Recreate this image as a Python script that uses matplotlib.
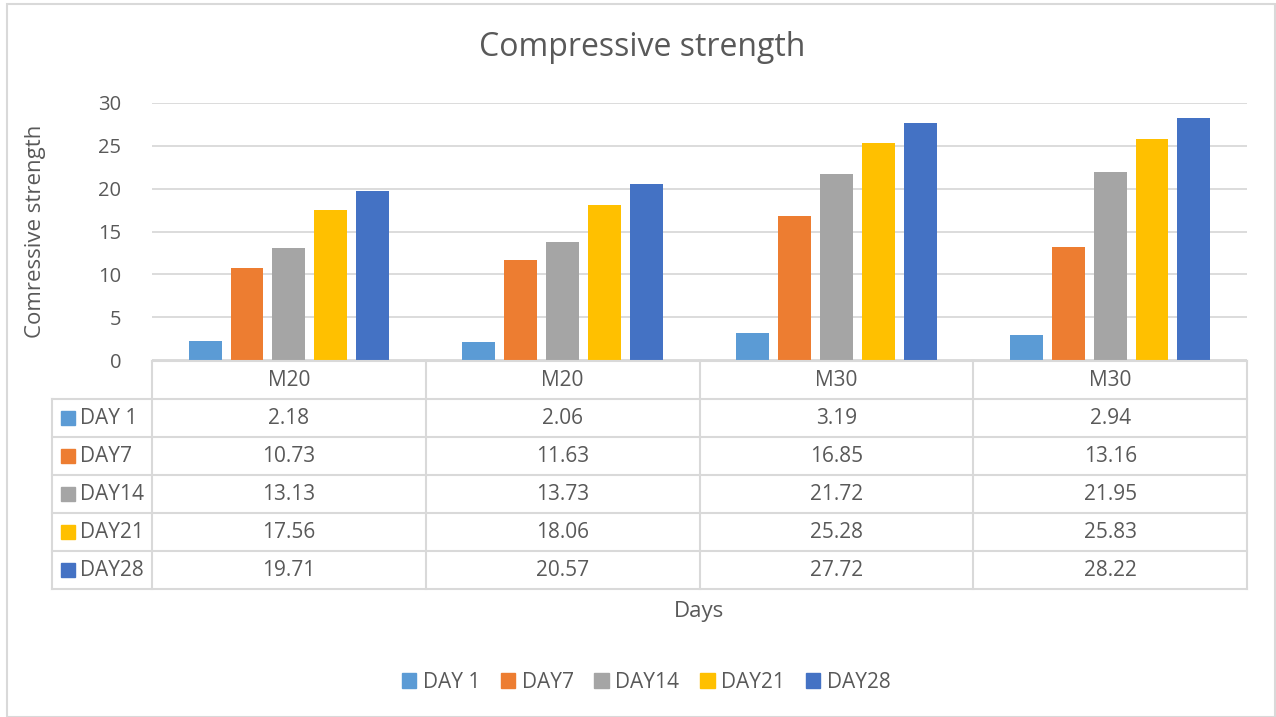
import matplotlib
matplotlib.use("Agg")
import matplotlib.pyplot as plt
from matplotlib.patches import Rectangle, Patch
import numpy as np

categories = ["M20", "M20", "M30", "M30"]
series_names = ["DAY 1", "DAY7", "DAY14", "DAY21", "DAY28"]
day1 = [2.18, 2.06, 3.19, 2.94]
day7 = [10.73, 11.63, 16.85, 13.16]
day14 = [13.13, 13.73, 21.72, 21.95]
day21 = [17.56, 18.06, 25.28, 25.83]
day28 = [19.71, 20.57, 27.72, 28.22]
series_values = [day1, day7, day14, day21, day28]
colors = ["#5B9BD5", "#ED7D31", "#A5A5A5", "#FFC000", "#4472C4"]
yticks = [0, 5, 10, 15, 20, 25, 30]

TXT = "#595959"
GRID = "#D9D9D9"
plt.rcParams['font.family'] = ['Open Sans', 'DejaVu Sans']

W, H = 1276, 717
fig = plt.figure(figsize=(W / 100, H / 100), dpi=100)

def fx(px):
    return px / W

def fy(py):
    return 1 - py / H

# main axes
L, R, T, B = 152, 1247, 103, 360
ax = fig.add_axes([fx(L), fy(B), fx(R - L), fy(T) - fy(B)])
n = len(series_names)
x = np.arange(len(categories))
width = 0.12
step = 0.153
for i, (name, vals, c) in enumerate(zip(series_names, series_values, colors)):
    ax.bar(x + (i - (n - 1) / 2) * step, vals, width=width, color=c, label=name, zorder=3)
ax.set_xlim(-0.5, len(categories) - 0.5)
ax.set_ylim(0, 30)
ax.set_yticks(yticks)
ax.set_yticklabels([str(v) for v in yticks], fontsize=14.5, color=TXT)
ax.tick_params(axis='y', length=0, pad=22)
ax.set_xticks([])
ax.grid(axis='y', color=GRID, linewidth=1.3, zorder=0)
for s in ax.spines.values():
    s.set_visible(False)
ax.set_ylabel("Comressive strength", fontsize=16, color=TXT, labelpad=38)

# title
fig.text(fx(642), fy(48), "Compressive strength", fontsize=23, color=TXT, ha='center', va='center')

# table axes
TL, TT, TB = 52, 361, 589
unit = (R - L) / len(categories)
xl = -0.5 - (L - TL) / unit
tax = fig.add_axes([fx(TL), fy(TB), fx(R - TL), fy(TT) - fy(TB)])
tax.set_xlim(xl, len(categories) - 0.5)
nrows = len(series_names) + 1
tax.set_ylim(nrows, 0)
tax.axis('off')
lw = 1.5
# horizontal lines
tax.plot([-0.5, len(categories) - 0.5], [0, 0], color=GRID, lw=lw, clip_on=False)
for r in range(1, nrows + 1):
    tax.plot([xl, len(categories) - 0.5], [r, r], color=GRID, lw=lw, clip_on=False)
# vertical lines
tax.plot([xl, xl], [1, nrows], color=GRID, lw=lw, clip_on=False)
for k in range(len(categories) + 1):
    tax.plot([k - 0.5, k - 0.5], [0, nrows], color=GRID, lw=lw, clip_on=False)
# header
for k, cat in enumerate(categories):
    tax.text(k, 0.5, cat, ha='center', va='center', fontsize=15, color=TXT)
# rows
for i, (name, vals, c) in enumerate(zip(series_names, series_values, colors)):
    r = i + 1.5
    tax.text(xl + 28 / unit, r, name, ha='left', va='center', fontsize=15, color=TXT)
    tax.add_patch(Rectangle((xl + 9 / unit, r - 0.18), 14 / unit, 0.36, color=c, clip_on=False))
    for k, v in enumerate(vals):
        tax.text(k, r, f"{v:.2f}", ha='center', va='center', fontsize=15, color=TXT)

# x label
fig.text(fx(699), fy(611), "Days", fontsize=16, color=TXT, ha='center', va='center')

# legend
handles = [Patch(color=c, label=nm) for nm, c in zip(series_names, colors)]
fig.legend(handles=handles, loc='center', bbox_to_anchor=(fx(646), fy(682)), ncol=5,
           frameon=False, fontsize=15, handlelength=0.7, handleheight=0.7,
           handletextpad=0.3, columnspacing=1.0, labelcolor=TXT)

# outer frame
fig.patches.append(Rectangle((fx(7), 0), 1 - fx(7) - 0.0005, fy(4), transform=fig.transFigure,
                             fill=False, edgecolor=GRID, linewidth=1.5))

fig.savefig("out.png", dpi=100)
